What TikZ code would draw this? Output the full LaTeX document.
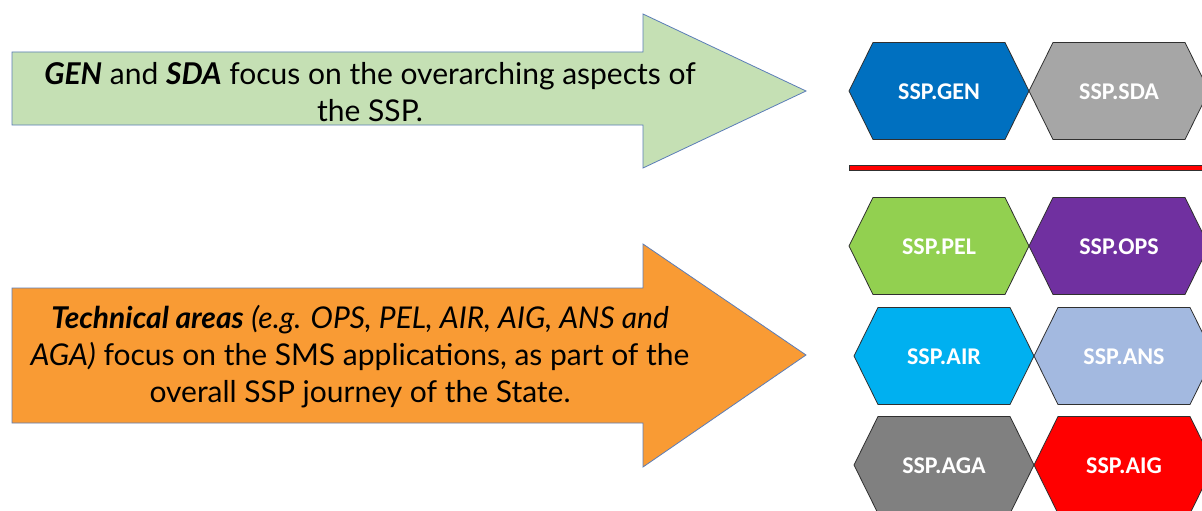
\documentclass[tikz,border=0pt]{standalone}
\usepackage{fontspec}
\setmainfont{Lato}
\newfontfamily\hexfont{Carlito}
\usetikzlibrary{calc}
\definecolor{arrowgreen}{HTML}{C5E0B4}
\definecolor{arroworange}{HTML}{F99B34}
\definecolor{arrowedge}{HTML}{5B7DB8}
\definecolor{cGEN}{HTML}{0070C0}
\definecolor{cSDA}{HTML}{A6A6A6}
\definecolor{cPEL}{HTML}{92D050}
\definecolor{cOPS}{HTML}{7030A0}
\definecolor{cAIR}{HTML}{00B0F0}
\definecolor{cANS}{HTML}{A3B9E0}
\definecolor{cAGA}{HTML}{808080}
\definecolor{cAIG}{HTML}{FF0000}
\definecolor{hexedge}{HTML}{303030}
\tikzset{
  bigarrow/.style={draw=arrowedge, line width=0.8pt, line join=miter},
  arrowtext/.style={font=\fontsize{30}{37}\selectfont, align=center, text=black, inner sep=0pt},
  hexlabel/.style={font=\hexfont\bfseries\fontsize{24}{26}\selectfont, text=white, inner sep=0pt},
  hexedge/.style={draw=hexedge, line width=0.8pt, line join=miter},
}
% hexagon: #1 = left point x, #2 = centre y, #3 = colour, #4 = name, #5 = label
\newcommand{\hexcell}[5]{%
  \fill[#3] (#1,#2) -- ++(24,-48.5) -- ++(132,0) -- ++(24,48.5) -- ++(-24,48.5) -- ++(-132,0) -- cycle;
  \draw[hexedge] (#1,#2) -- ++(24,-48.5) -- ++(132,0) -- ++(24,48.5) -- ++(-24,48.5) -- ++(-132,0) -- cycle;
  \node[hexlabel] (#4) at ($(#1,#2)+(90,1)$) {#5};%
}
\begin{document}
\begin{tikzpicture}[x=1pt,y=-1pt]
\useasboundingbox (0,0) rectangle (1202,511);
\fill[white] (0,0) rectangle (1202,511);
% top arrow
\draw[bigarrow, fill=arrowgreen] (12,52) -- (643,52) -- (643,14) -- (806,91) -- (643,168) -- (643,125) -- (12,125) -- cycle;
\node[arrowtext] (toptext) at (370,92) {\textbf{\textit{GEN}} and \textbf{\textit{SDA}} focus on the overarching aspects of\\ the SSP.};
% bottom arrow
\draw[bigarrow, fill=arroworange] (12,288) -- (643,288) -- (643,244) -- (806,355) -- (643,467) -- (643,423) -- (12,423) -- cycle;
\node[arrowtext] (bottext) at (360,357) {\textbf{\textit{Technical areas}} \textit{(e.g. OPS, PEL, AIR, AIG, ANS and}\\ \textit{AGA)} focus on the SMS applications, as part of the\\ overall SSP journey of the State.};
% hexagons
\hexcell{849}{91}{cGEN}{gen}{SSP.GEN}
\hexcell{1029}{91}{cSDA}{sda}{SSP.SDA}
\draw[draw=hexedge, fill=cAIG, line width=0.6pt] (849,165.5) rectangle (1203,170.5);
\hexcell{849}{246}{cPEL}{pel}{SSP.PEL}
\hexcell{1029}{246}{cOPS}{ops}{SSP.OPS}
\hexcell{854}{356}{cAIR}{air}{SSP.AIR}
\hexcell{1034}{356}{cANS}{ans}{SSP.ANS}
\hexcell{854}{465}{cAGA}{aga}{SSP.AGA}
\hexcell{1034}{465}{cAIG}{aig}{SSP.AIG}
\end{tikzpicture}
\end{document}
